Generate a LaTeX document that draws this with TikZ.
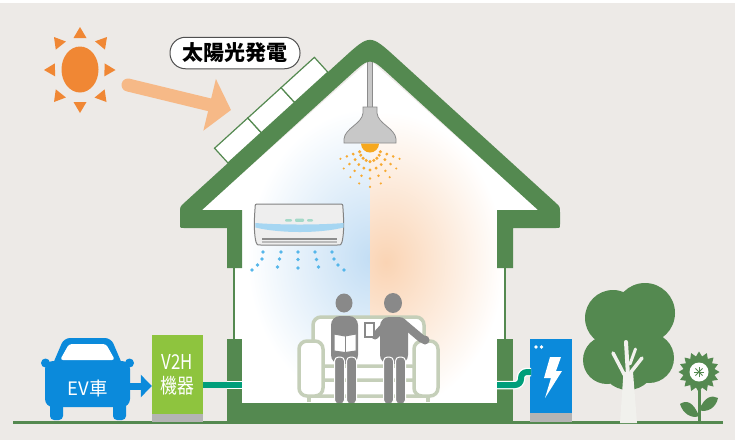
\documentclass[tikz,border=0pt]{standalone}
\usepackage{fontspec}
\newfontfamily\jpfont{Noto Sans CJK JP}
\newfontfamily\jpnarrow[FakeStretch=0.82]{Noto Sans CJK JP}
\usetikzlibrary{arrows.meta,shapes.geometric,calc}

\definecolor{bgc}{RGB}{237,234,231}
\definecolor{hgreen}{RGB}{84,137,80}
\definecolor{sunorange}{RGB}{240,135,52}
\definecolor{peach}{RGB}{246,185,135}
\definecolor{evblue}{RGB}{11,138,219}
\definecolor{lime}{RGB}{142,196,62}
\definecolor{basegray}{RGB}{180,180,180}
\definecolor{cable}{RGB}{0,158,122}
\definecolor{persongray}{RGB}{137,137,137}
\definecolor{sofaline}{RGB}{197,207,185}
\definecolor{trunk}{RGB}{241,241,237}
\definecolor{coolblue}{RGB}{194,221,244}
\definecolor{warmorange}{RGB}{250,212,180}
\definecolor{lightdot}{RGB}{247,170,50}
\definecolor{bulb}{RGB}{246,168,30}
\definecolor{airdot}{RGB}{85,182,234}
\definecolor{shadegray}{RGB}{200,200,200}
\definecolor{shadeline}{RGB}{140,140,140}
\definecolor{acbody}{RGB}{238,238,238}
\definecolor{acline}{RGB}{130,130,130}
\definecolor{acband}{RGB}{166,214,242}
\definecolor{acled}{RGB}{164,217,200}
\definecolor{acvent}{RGB}{140,140,140}
\definecolor{labelline}{RGB}{80,80,80}

\tikzset{
  panel/.style={fill=white, draw=hgreen, line width=1.2},
  sofapart/.style={fill=white, draw=sofaline, line width=3.5, rounded corners=8},
  person/.style={fill=persongray},
  leg/.style={fill=persongray, draw=white, line width=1, rounded corners=4},
  cablewire/.style={draw=cable, line width=6},
  cableedge/.style={draw=white, line width=8.5},
  whitetext/.style={text=white, inner sep=0, align=center},
  lampline/.style={fill=shadegray, draw=shadeline, line width=0.8},
}

\begin{document}
\begin{tikzpicture}[x=1pt, y=-1pt]
\useasboundingbox (0,0) rectangle (735,440);
\fill[bgc] (0,0) rectangle (735,440);
\fill[white] (0,0) rectangle (735,3);

% ---------- interior with cool and warm glow ----------
\begin{scope}
  \clip (235,404) -- (235,213) -- (198,213) -- (370,60) -- (542,213)
        -- (505,213) -- (505,404) -- cycle;
  \fill[white] (180,40) rectangle (560,410);
  \begin{scope}
    \clip (180,40) rectangle (370,410);
    \shade[inner color=coolblue, outer color=white] (372,258) ellipse (125 and 150);
  \end{scope}
  \begin{scope}
    \clip (370,40) rectangle (560,410);
    \shade[inner color=warmorange, outer color=white] (386,262) ellipse (118 and 150);
  \end{scope}
\end{scope}

% ---------- lamp light ----------
\foreach \a/\k in {-70/0.85,-52/0.9,-34/0.95,-17/1,0/1.05,17/1,34/0.95,52/0.9,70/0.85} {
  \foreach \r/\s in {13/1.7,21/1.6,29/1.4,37/1.2} {
    \fill[lightdot] ($(370,148)+({90+\a}:\r*\k)$) circle (\s);
  }
}

% ---------- air conditioner ----------
\draw[fill=acbody, draw=acline, line width=1]
  (259,204) -- (339,204) .. controls (343,204) .. (343,209)
  .. controls (344,222) and (344,234) .. (342,242) .. controls (341,245) .. (337,245)
  -- (261,245) .. controls (257,245) .. (256,242)
  .. controls (254,234) and (254,222) .. (255,209) .. controls (255,204) .. (259,204) -- cycle;
\fill[acband] (255.3,223) .. controls (280,225) and (320,225) .. (343.7,223)
  -- (343.6,227.5) .. controls (320,233.5) and (280,233.5) .. (255.4,227.5) -- cycle;
\fill[acled, rounded corners=1] (285,219) rectangle (292,221.5);
\fill[acled, rounded corners=1] (295,218.5) rectangle (304,221.8);
\fill[acled, rounded corners=1] (307,219) rectangle (313,221.5);
\fill[acvent] (262,238.3) rectangle (337,240.3);
\fill[acvent!60] (262,241.3) rectangle (337,243);
\foreach \p in {(263,252),(262,259),(257.5,265),(252,270),
                (281,252),(279.5,259),(277.5,267),
                (298,252),(298,259.5),(298,268),
                (315,252),(316.5,259.5),(318.5,267),
                (332,252),(334,259),(338,265),(344,270)} {
  \fill[airdot] \p circle (1.8);
}

% ---------- sofa ----------
\draw[sofapart] (313,317) rectangle (424,374);
\draw[sofapart] (318,366) rectangle (419,382);
\draw[sofapart] (305,380) rectangle (432,396);
\draw[sofapart] (299,341) rectangle (323,396);
\draw[sofapart] (414,341) rectangle (438,396);
\draw[sofaline, line width=3.5] (309,396) -- (309,402) (428,396) -- (428,402);

% ---------- reading person ----------
\fill[person] (344,303) ellipse (8.5 and 9.5);
\fill[person, rounded corners=9] (331,364) -- (331,316) -- (358,316) -- (358,364) -- cycle;
\draw[fill=white, draw=persongray, line width=1]
  (334,334) -- (345,336) -- (356,334) -- (356,351) -- (345,352.5) -- (334,351) -- cycle;
\draw[persongray, line width=0.8] (345,336) -- (345,352.5);
\draw[leg] (334.5,357) rectangle (344.5,404);
\draw[leg] (346.5,357) rectangle (356.5,404);

% ---------- person with a cup ----------
\fill[person] (393,303) ellipse (9 and 10);
\fill[person, rounded corners=9] (380,364) -- (380,317) -- (408,317) -- (408,364) -- cycle;
\draw[persongray, line width=8, line cap=round] (403,323) -- (422,339);
\fill[person] (425,340) circle (4.5);
\draw[persongray, line width=7, line cap=round] (385,325) -- (375,336);
\draw[fill=white, draw=persongray, line width=1.2] (365,323) rectangle (374,337);
\draw[leg] (383.5,357) rectangle (393.5,404);
\draw[leg] (395.5,357) rectangle (405.5,404);

% ---------- pendant lamp cord ----------
\draw[lampline] (367.5,58) rectangle (372.5,108);

% ---------- house frame ----------
\fill[hgreen]
  (227,268) -- (227,228) -- (184,228) .. controls (180,228) .. (180,224)
  -- (180,212.7) .. controls (180,206.7) .. (184.4,202.7)
  -- (343.4,58) .. controls (370,33.8) .. (396.6,58)
  -- (555.6,202.7) .. controls (560,206.7) .. (560,212.7)
  -- (560,224) .. controls (560,228) .. (556,228)
  -- (513,228) -- (513,268) -- (497,268) -- (497,210) -- (538,210)
  -- (389.6,74.9) .. controls (370,57.1) .. (350.4,74.9)
  -- (202,210) -- (242,210) -- (242,268) -- cycle;
\draw[hgreen, line width=2.5] (234,267) -- (234,341);
\draw[hgreen, line width=2.5] (505,267) -- (505,341);
\fill[hgreen] (227,339) rectangle (242,404);
\fill[hgreen] (497,339) rectangle (513,404);
\fill[hgreen] (227,403) rectangle (513,423);
\fill[hgreen] (13,421) rectangle (723,424);

% ---------- solar panels ----------
\begin{scope}[shift={(228,163)}, rotate=42.3]
  \foreach \i in {0,1,2} \draw[panel] (45*\i,0) rectangle ++(45,-20);
\end{scope}

% ---------- lamp shade and bulb ----------
\draw[lampline] (363,107) -- (377,107) -- (377,113)
  .. controls (378,124) and (395,128) .. (396,139) -- (396,143) -- (344,143) -- (344,139)
  .. controls (345,128) and (362,124) .. (363,113) -- cycle;
\fill[bulb] (379,143.5) arc (0:180:9) -- cycle;

% ---------- sun ----------
\coordinate (sunc) at (80,69.5);
\node[ellipse, fill=sunorange, minimum width=37, minimum height=46, inner sep=0] (sun) at (sunc) {};
\foreach \p in {(80,27),(107,37),(115.5,70),(106.5,102),(80,113),(54,102),(44,70),(54,37)} {
  \path \p coordinate (st);
  \path ($(st)!11pt!(sunc)$) coordinate (sb);
  \fill[sunorange] (st) -- ($(sb)!6.5pt!90:(st)$) -- ($(sb)!6.5pt!-90:(st)$) -- cycle;
}
\coordinate (beamstart) at (128,85);
\coordinate (beamend) at (231,110);
\draw[peach, line width=13, line cap=round, -{Triangle[length=22pt,width=52pt]}]
  (beamstart) -- (beamend);

% ---------- label ----------
\node[draw=labelline, fill=white, line width=1, rounded corners=15.5,
      minimum width=130, minimum height=31.5, inner sep=0,
      font=\jpfont\bfseries\fontsize{21}{21}\selectfont] (pvlabel) at (235,53) {太陽光発電};

% ---------- electric car ----------
\fill[evblue] (45.5,363) circle (4.5);
\fill[evblue] (129.5,363) circle (4.5);
\fill[evblue, rounded corners=6] (52,366) -- (64,338) -- (111,338) -- (123,366) -- cycle;
\fill[white, rounded corners=3] (60,360) -- (69,344) -- (106,344) -- (115,360) -- cycle;
\fill[evblue, rounded corners=4] (50,398) rectangle (63,420);
\fill[evblue, rounded corners=4] (113,398) rectangle (126,420);
\fill[evblue, rounded corners=8] (45,361) rectangle (130,407);
\node[whitetext, font=\jpfont\fontsize{18.5}{18.5}\selectfont] (evtext) at (87.5,388) {EV車};

% ---------- V2H unit ----------
\node[fill=lime, minimum width=51, minimum height=79, inner sep=0, whitetext,
      font=\jpnarrow\fontsize{20.5}{24}\selectfont] (v2h) at (177.5,374.5) {V2H\\機器};
\fill[basegray] (152,414) rectangle (203,422);
\coordinate (carfront) at (130,386);
\draw[evblue, line width=7, -{Triangle[length=11pt,width=22pt]}] (carfront) -- (v2h.west |- carfront);

% ---------- storage battery ----------
\node[fill=evblue, minimum width=42, minimum height=74, inner sep=0] (storage) at (551,376) {};
\fill[basegray] (530,413) rectangle (572,422);
\fill[white] (536,347) circle (1.8) (541.5,347) circle (1.8);
\fill[white] (550,357) -- (561,357) -- (556,371) -- (562,371) -- (545,398) -- (551,378) -- (544,378) -- cycle;

% ---------- cables ----------
\coordinate (wallLout) at (227,385);
\coordinate (wallLin) at (242,385);
\draw[cableedge] (wallLout) -- (wallLin);
\draw[cablewire] (v2h.east |- wallLin) -- (wallLin);
\coordinate (wallRin) at (497,385);
\coordinate (stport) at (531,372);
\draw[cableedge, rounded corners=6] (wallRin) -- (521,385) -- (521,372) -- (stport);
\draw[cablewire, rounded corners=6] (wallRin) -- (521,385) -- (521,372) -- (stport);

% ---------- tree ----------
\fill[hgreen] (613,318) circle (28) (645,313) circle (30) (607,360) circle (24)
              (649,358) circle (25) (628,362) circle (28) (629,325) circle (30);
\fill[trunk] (620,423) -- (623.5,372) -- (633,372) -- (637,423) -- cycle;
\draw[trunk, line width=4, line cap=round] (628,376) -- (626,342);
\draw[trunk, line width=3.5, line cap=round] (625,376) -- (613,353);
\draw[trunk, line width=3.5, line cap=round] (631,372) -- (642,358);
\draw[trunk, line width=3, line cap=round] (630,364) -- (635.5,349);

% ---------- sunflower ----------
\draw[hgreen, line width=3] (699,390) -- (699,422);
\fill[hgreen] (699,416) .. controls (693,401) and (686,400) .. (680,404)
  .. controls (683,414) and (692,419) .. (699,416) -- cycle;
\fill[hgreen] (699,410) .. controls (705,396) and (712,395) .. (718,398)
  .. controls (716,408) and (707,413) .. (699,410) -- cycle;
\node[star, star points=16, star point ratio=1.3, minimum size=41, inner sep=0, fill=hgreen] (flowerhead) at (699,372) {};
\fill[white] (flowerhead.center) circle (9.5);
\foreach \a in {0,45,90,135} {
  \draw[hgreen, line width=0.9] ($(flowerhead.center)+(\a:5)$) -- ($(flowerhead.center)+(\a+180:5)$);
}
\end{tikzpicture}
\end{document}
